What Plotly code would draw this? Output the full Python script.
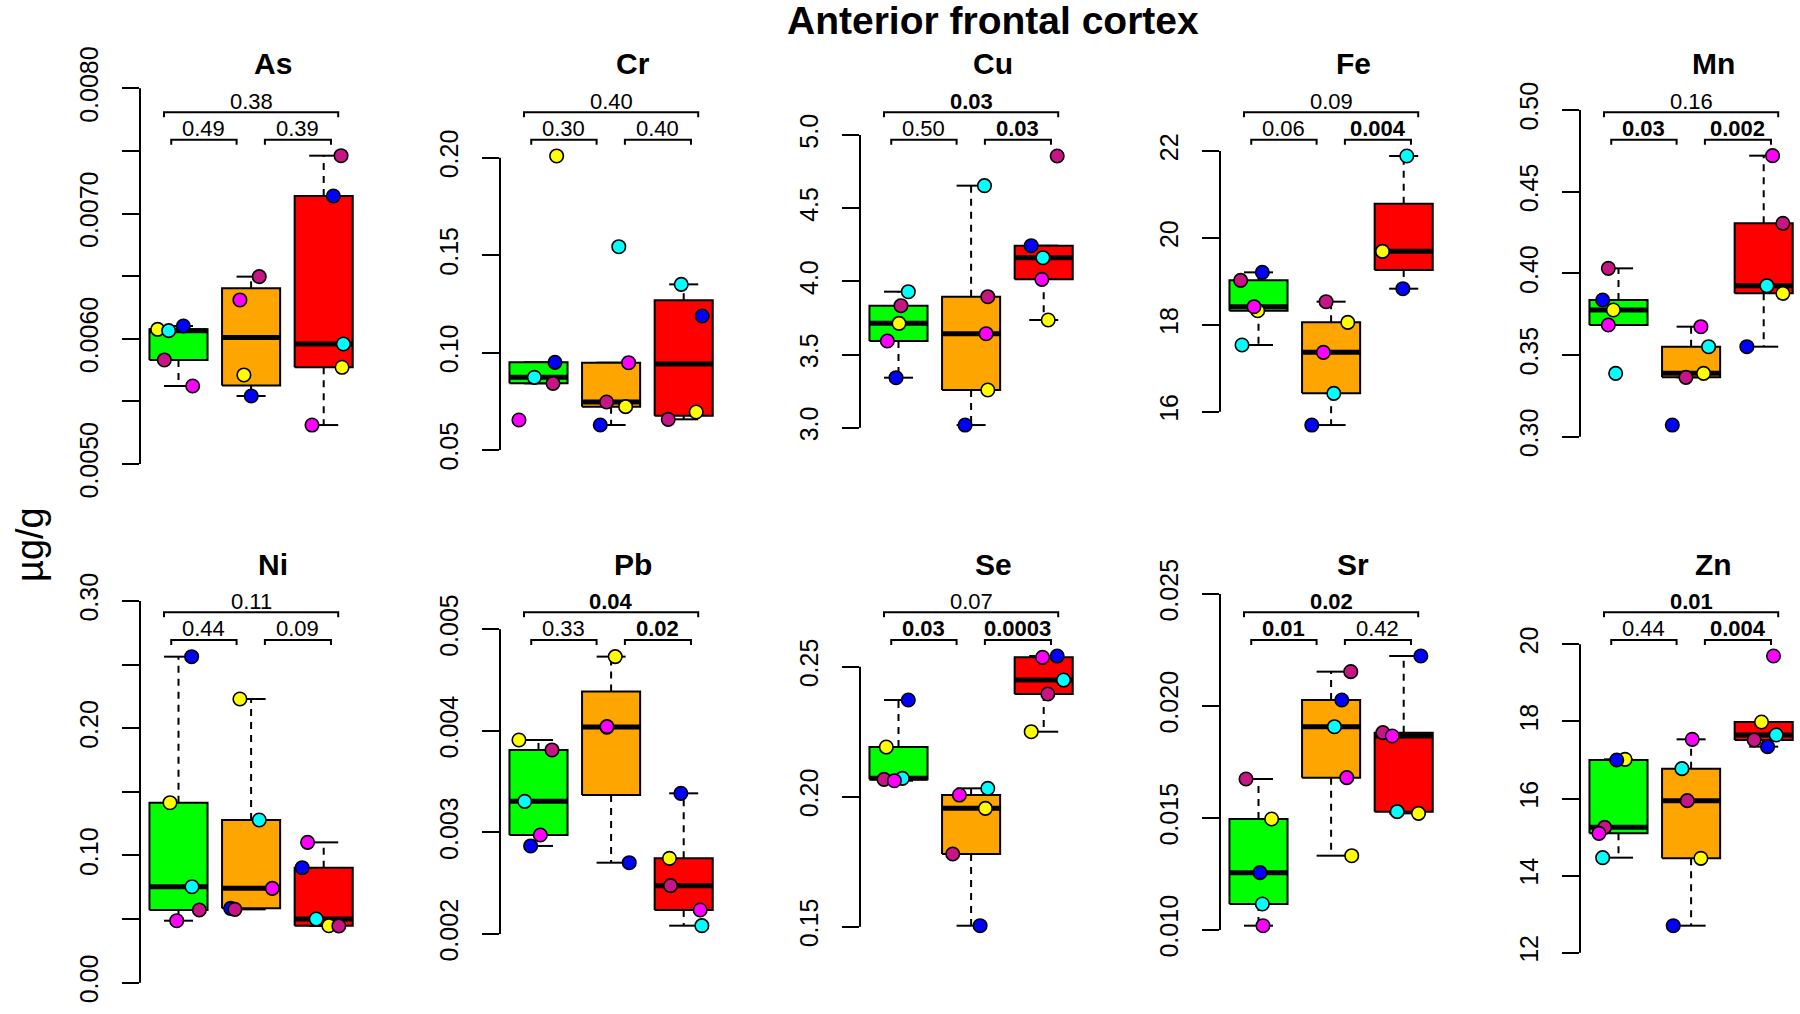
import math
import plotly.graph_objects as go

# ---------------- data ----------------
ELEMENTS = ["As", "Cr", "Cu", "Fe", "Mn", "Ni", "Pb", "Se", "Sr", "Zn"]
GROUP_FILL = ["#00FF00", "#FFA500", "#FF0000"]
POINT_COLOR = {"y": "#FFFF00", "c": "#00FFFF", "b": "#0000FF", "k": "#C71585", "m": "#FF00FF"}

# values per group (green, orange, red), colour code of each point, horizontal jitter
As_values = [[0.006075, 0.006065, 0.006102, 0.005831, 0.005623],
             [0.005711, 0.005543, 0.006496, 0.006310],
             [0.005772, 0.005958, 0.007140, 0.007462, 0.005311]]
As_colors = [list("ycbkm"), list("ybkm"), list("ycbkm")]
As_jitter = [[-0.287, -0.135, 0.067, -0.195, 0.195],
             [-0.099, 0.002, 0.112, -0.154],
             [0.253, 0.271, 0.133, 0.239, -0.161]]

Cr_values = [[0.2009, 0.08729, 0.09498, 0.08421, 0.06539],
             [0.07224, 0.15433, 0.06283, 0.07463, 0.09481],
             [0.0695, 0.1350, 0.11876, 0.06574]]
Cr_colors = [list("ycbkm"), list("ycbkm"), list("ycbk")]
Cr_jitter = [[0.25, -0.057, 0.227, 0.2, -0.269],
             [0.2, 0.106, -0.149, -0.062, 0.241],
             [0.172, -0.034, 0.255, -0.213]]

Cu_values = [[3.713, 3.9294, 3.3417, 3.8337, 3.5923],
             [3.2574, 4.6538, 3.0182, 3.8952, 3.6424],
             [3.7358, 4.1617, 4.2437, 4.8565, 4.0137]]
Cu_colors = [list("ycbkm"), list("ycbkm"), list("ycbkm")]
Cu_jitter = [[0.007, 0.135, -0.034, 0.034, -0.154],
             [0.23, 0.184, -0.083, 0.23, 0.207],
             [0.062, -0.011, -0.172, 0.186, -0.025]]

Fe_values = [[18.325, 17.535, 19.207, 19.023, 18.417],
             [18.056, 16.422, 15.693, 18.532, 17.366],
             [19.69, 19.69, 21.885, 18.831]]
Fe_colors = [list("ycbkm"), list("ycbkm"), list("mycb")]
Fe_jitter = [[-0.011, -0.227, 0.053, -0.246, -0.062],
             [0.23, 0.037, -0.266, -0.069, -0.106],
             [-0.292, -0.292, 0.043, -0.011]]

Mn_values = [[0.37755, 0.33878, 0.38367, 0.40306, 0.36837],
             [0.33878, 0.35510, 0.30714, 0.33633, 0.36735],
             [0.38776, 0.39245, 0.35510, 0.43061, 0.47204]]
Mn_colors = [list("ycbkm"), list("ycbkm"), list("ycbkm")]
Mn_jitter = [[-0.071, -0.039, -0.218, -0.14, -0.14],
             [0.172, 0.241, -0.259, -0.071, 0.135],
             [0.264, 0.044, -0.232, 0.264, 0.122]]

Ni_values = [[0.14148, 0.07546, 0.25624, 0.05712, 0.04873],
             [0.22296, 0.12786, 0.05843, 0.05764, 0.07415],
             [0.0448, 0.05004, 0.09039, 0.0446, 0.1103]]
Ni_colors = [list("ycbkm"), list("ycbkm"), list("ycbkm")]
Ni_jitter = [[-0.117, 0.186, 0.181, 0.287, -0.025],
             [-0.154, 0.112, -0.282, -0.223, 0.292],
             [0.071, -0.103, -0.296, 0.209, -0.222]]

Pb_values = [[0.003910, 0.003306, 0.002867, 0.003812, 0.002975],
             [0.004731, 0.002702, 0.004036, 0.004042],
             [0.002745, 0.002082, 0.003385, 0.002476, 0.002236]]
Pb_colors = [list("ycbkm"), list("ybkm"), list("ycbkm")]
Pb_jitter = [[-0.269, -0.19, -0.108, 0.186, 0.025],
             [0.057, 0.25, -0.057, -0.057],
             [-0.196, 0.25, -0.039, -0.181, 0.227]]

Se_values = [[0.2191, 0.20705, 0.23718, 0.20667, 0.20615],
             [0.19551, 0.20321, 0.15038, 0.17795, 0.20064],
             [0.2250, 0.24487, 0.2541, 0.23949, 0.25359]]
Se_colors = [list("ycbkm"), list("ycbkm"), list("ycbkm")]
Se_jitter = [[-0.168, 0.053, 0.135, -0.2, -0.057],
             [0.197, 0.23, 0.124, -0.253, -0.161],
             [-0.172, 0.273, 0.186, 0.057, -0.016]]

Sr_values = [[0.014955, 0.011161, 0.012560, 0.016741, 0.010193],
             [0.013318, 0.019077, 0.020268, 0.021533, 0.016801],
             [0.015208, 0.015283, 0.022232, 0.018810, 0.018661]]
Sr_colors = [list("ycbkm"), list("ycbkm"), list("ycbkm")]
Sr_jitter = [[0.181, 0.053, 0.021, -0.172, 0.062],
             [0.284, 0.046, 0.147, 0.271, 0.216],
             [0.204, -0.09, 0.236, -0.287, -0.158]]

Zn_values = [[17.016, 14.465, 16.999, 15.252, 15.096],
             [14.448, 16.774, 12.701, 15.944, 17.535],
             [17.985, 17.648, 17.345, 17.518, 19.697]]
Zn_colors = [list("ycbkm"), list("ycbkm"), list("ycbkm")]
Zn_jitter = [[0.09, -0.218, -0.025, -0.191, -0.269],
             [0.135, -0.126, -0.246, -0.053, 0.016],
             [-0.03, 0.172, 0.053, -0.131, 0.135]]

# p-values: (group 1 vs 3, 1 vs 2, 2 vs 3)
P_VALUES = {
    "As": ["0.38", "0.49", "0.39"], "Cr": ["0.40", "0.30", "0.40"],
    "Cu": ["0.03", "0.50", "0.03"], "Fe": ["0.09", "0.06", "0.004"],
    "Mn": ["0.16", "0.03", "0.002"], "Ni": ["0.11", "0.44", "0.09"],
    "Pb": ["0.04", "0.33", "0.02"], "Se": ["0.07", "0.03", "0.0003"],
    "Sr": ["0.02", "0.01", "0.42"], "Zn": ["0.01", "0.44", "0.004"],
}

# y-axis tick values and labels
TICKS = {
    "As": ([0.0050, 0.0055, 0.0060, 0.0065, 0.0070, 0.0075, 0.0080],
           ["0.0050", "", "0.0060", "", "0.0070", "", "0.0080"]),
    "Cr": ([0.05, 0.10, 0.15, 0.20], ["0.05", "0.10", "0.15", "0.20"]),
    "Cu": ([3.0, 3.5, 4.0, 4.5, 5.0], ["3.0", "3.5", "4.0", "4.5", "5.0"]),
    "Fe": ([16, 18, 20, 22], ["16", "18", "20", "22"]),
    "Mn": ([0.30, 0.35, 0.40, 0.45, 0.50], ["0.30", "0.35", "0.40", "0.45", "0.50"]),
    "Ni": ([0.00, 0.05, 0.10, 0.15, 0.20, 0.25, 0.30], ["0.00", "", "0.10", "", "0.20", "", "0.30"]),
    "Pb": ([0.002, 0.003, 0.004, 0.005], ["0.002", "0.003", "0.004", "0.005"]),
    "Se": ([0.15, 0.20, 0.25], ["0.15", "0.20", "0.25"]),
    "Sr": ([0.010, 0.015, 0.020, 0.025], ["0.010", "0.015", "0.020", "0.025"]),
    "Zn": ([12, 14, 16, 18, 20], ["12", "14", "16", "18", "20"]),
}

DATA = {
    "As": (As_values, As_colors, As_jitter), "Cr": (Cr_values, Cr_colors, Cr_jitter),
    "Cu": (Cu_values, Cu_colors, Cu_jitter), "Fe": (Fe_values, Fe_colors, Fe_jitter),
    "Mn": (Mn_values, Mn_colors, Mn_jitter), "Ni": (Ni_values, Ni_colors, Ni_jitter),
    "Pb": (Pb_values, Pb_colors, Pb_jitter), "Se": (Se_values, Se_colors, Se_jitter),
    "Sr": (Sr_values, Sr_colors, Sr_jitter), "Zn": (Zn_values, Zn_colors, Zn_jitter),
}

TITLE = "Anterior frontal cortex"
YLABEL = "µg/g"

# ---------------- layout geometry (pixels) ----------------
W, H = 1800, 1014
FONT = "Liberation Sans, Arial, Helvetica, sans-serif"
AXIS_X = [140, 500, 860, 1220, 1580]
BOX_OFF = 38.5          # px from axis to first box centre
UNIT = 72.6             # px per group unit
PANEL_W = 218
ROW_DOM = [(78, 482), (588, 1000)]   # top, bottom pixel of each row's plot area
# pixel rows of first and last tick for each panel (axis scale calibration)
AXIS_PIX = {
    "As": (464.0, 88.3), "Cr": (450.0, 157.7), "Cu": (427.7, 135.0),
    "Fe": (411.7, 151.0), "Mn": (436.7, 110.0), "Ni": (982.7, 601.0),
    "Pb": (934.0, 629.3), "Se": (926.7, 666.7), "Sr": (930.0, 594.0),
    "Zn": (952.7, 644.3),
}
ROW_BRACKET = [(112.3, 139.7), (612.3, 640.0)]
ROW_PTEXT = [(101.5, 128.5), (601.5, 628.5)]
ROW_TITLE = [64, 564]


def px(x):
    return x / W


def py(y):
    return 1 - y / H


def fivenum(v):
    s = sorted(v)
    n = len(s)
    n4 = math.floor((n + 3) / 2) / 2
    d = [1, n4, (n + 1) / 2, n + 1 - n4, n]
    return [0.5 * (s[math.floor(k) - 1] + s[math.ceil(k) - 1]) for k in d]


fig = go.Figure()
shapes = []
annotations = []

for i, el in enumerate(ELEMENTS):
    r, c = divmod(i, 5)
    n = i + 1
    xa = "x" if n == 1 else f"x{n}"
    ya = "y" if n == 1 else f"y{n}"
    values, colors, jitter = DATA[el]
    tickvals, ticktext = TICKS[el]

    # axes
    ax_px = AXIS_X[c]
    x0 = 1 - BOX_OFF / UNIT
    x1 = x0 + PANEL_W / UNIT
    p_lo, p_hi = AXIS_PIX[el]
    v_lo, v_hi = tickvals[0], tickvals[-1]
    slope = (v_hi - v_lo) / (p_lo - p_hi)
    top, bot = ROW_DOM[r]
    yr = [v_lo + (p_lo - bot) * slope, v_lo + (p_lo - top) * slope]

    fig.layout[f"xaxis{'' if n == 1 else n}"] = dict(
        domain=[px(ax_px), px(ax_px + PANEL_W)], range=[x0, x1], visible=False,
        anchor=ya, fixedrange=True, automargin=False)
    fig.layout[f"yaxis{'' if n == 1 else n}"] = dict(
        domain=[py(bot), py(top)], range=yr, anchor=xa,
        tickvals=tickvals, ticktext=ticktext, tickangle=-90,
        ticks="outside", ticklen=17, tickwidth=2, tickcolor="black",
        showline=False, showgrid=False, zeroline=False,
        tickfont=dict(family=FONT, size=25, color="black"),
        ticklabelstandoff=14, fixedrange=True, automargin=False,
        ticklabeloverflow="allow")

    # axis line only across tick range (R style)
    shapes.append(dict(type="line", xref=f"{xa} domain", yref=ya, x0=0, x1=0,
                       y0=v_lo, y1=v_hi, line=dict(color="black", width=2)))

    # boxes
    for g in range(3):
        vals = values[g]
        xc = g + 1
        mn, q1, med, q3, mx = fivenum(vals)
        iqr = q3 - q1
        lf = min(v for v in vals if v >= q1 - 1.5 * iqr)
        uf = max(v for v in vals if v <= q3 + 1.5 * iqr)
        lf = min(lf, q1)
        uf = max(uf, q3)
        # whiskers (dashed)
        fig.add_trace(go.Scatter(
            x=[xc, xc, None, xc, xc], y=[q3, uf, None, q1, lf], mode="lines",
            line=dict(color="black", width=2, dash="7px,6px"),
            xaxis=xa, yaxis=ya, showlegend=False, hoverinfo="skip"))
        # staples
        fig.add_trace(go.Scatter(
            x=[xc - 0.2, xc + 0.2, None, xc - 0.2, xc + 0.2], y=[uf, uf, None, lf, lf],
            mode="lines", line=dict(color="black", width=2),
            xaxis=xa, yaxis=ya, showlegend=False, hoverinfo="skip"))
        # box body
        fig.add_trace(go.Scatter(
            x=[xc - 0.4, xc + 0.4, xc + 0.4, xc - 0.4, xc - 0.4],
            y=[q1, q1, q3, q3, q1], mode="lines", fill="toself",
            fillcolor=GROUP_FILL[g], line=dict(color="black", width=2),
            xaxis=xa, yaxis=ya, showlegend=False, hoverinfo="skip"))
        # median
        fig.add_trace(go.Scatter(
            x=[xc - 0.4, xc + 0.4], y=[med, med], mode="lines",
            line=dict(color="black", width=5),
            xaxis=xa, yaxis=ya, showlegend=False, hoverinfo="skip"))
    # points
    for g in range(3):
        fig.add_trace(go.Scatter(
            x=[g + 1 + j for j in jitter[g]], y=values[g], mode="markers",
            marker=dict(size=13.5, color=[POINT_COLOR[k] for k in colors[g]],
                        line=dict(color="black", width=1.6)),
            xaxis=xa, yaxis=ya, showlegend=False, cliponaxis=False))

    # panel title
    annotations.append(dict(text=f"<b>{el}</b>", xref="paper", yref="paper",
                            x=px(ax_px + 133), y=py(ROW_TITLE[r]), showarrow=False,
                            xanchor="center", yanchor="middle",
                            font=dict(family=FONT, size=30, color="black")))

    # brackets and p-values
    b_top, b_low = ROW_BRACKET[r]
    t_top, t_low = ROW_PTEXT[r]
    tick = 5
    brackets = [(0.8, 3.2, b_top, t_top), (0.9, 1.8, b_low, t_low), (2.19, 3.1, b_low, t_low)]
    for (bx0, bx1, by, ty), ptxt in zip(brackets, P_VALUES[el]):
        path = (f"M {bx0} {py(by + tick)} L {bx0} {py(by)} "
                f"L {bx1} {py(by)} L {bx1} {py(by + tick)}")
        shapes.append(dict(type="path", xref=xa, yref="paper", path=path,
                           line=dict(color="black", width=2)))
        bold = float(ptxt) < 0.05
        annotations.append(dict(text=f"<b>{ptxt}</b>" if bold else ptxt,
                                xref=xa, yref="paper", x=(bx0 + bx1) / 2, y=py(ty),
                                showarrow=False, xanchor="center", yanchor="middle",
                                font=dict(family=FONT, size=22, color="black")))

# main title and y label
annotations.append(dict(text=f"<b>{TITLE}</b>", xref="paper", yref="paper",
                        x=px(993), y=py(21), showarrow=False, xanchor="center",
                        yanchor="middle", font=dict(family=FONT, size=39, color="black")))
annotations.append(dict(text=YLABEL, xref="paper", yref="paper", x=px(30), y=py(545),
                        showarrow=False, textangle=-90, xanchor="center", yanchor="middle",
                        font=dict(family=FONT, size=38, color="black")))

fig.update_layout(width=W, height=H,
                  margin=dict(l=0, r=0, t=0, b=0, pad=0, autoexpand=False),
                  paper_bgcolor="white", plot_bgcolor="white",
                  shapes=shapes, annotations=annotations, showlegend=False)

fig.write_html("out.html", config={"displayModeBar": False},
               post_script="document.body.style.margin='0px';")
